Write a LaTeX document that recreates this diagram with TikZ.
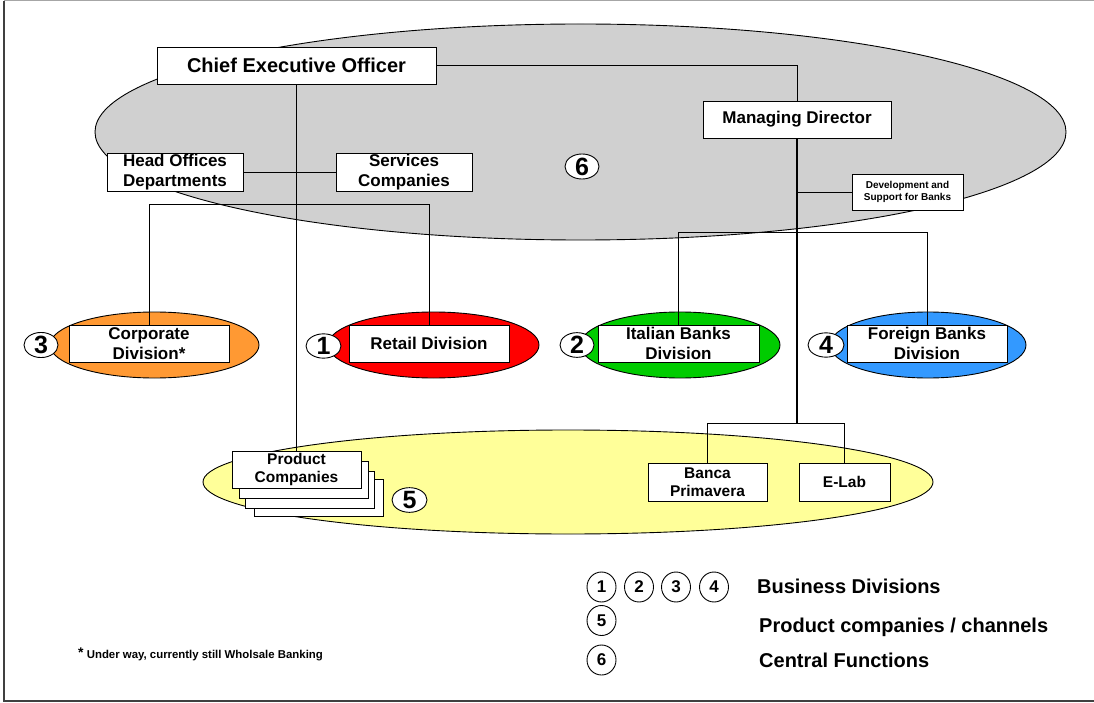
\documentclass[tikz,border=0pt]{standalone}
\usepackage{fontspec}
\setmainfont{Liberation Sans}
\usetikzlibrary{shapes.geometric}

\definecolor{centralgray}{RGB}{208,208,208}
\definecolor{chanyellow}{RGB}{255,255,153}
\definecolor{corporange}{RGB}{255,153,51}
\definecolor{retailred}{RGB}{255,0,0}
\definecolor{italgreen}{RGB}{0,204,0}
\definecolor{foreignblue}{RGB}{51,153,255}

\tikzset{
  orgbox/.style={draw, fill=white, line width=0.9pt, inner sep=0pt, align=center,
    font=\bfseries\fontsize{17}{20}\selectfont},
  smallbox/.style={orgbox, font=\bfseries\fontsize{15.5}{18}\selectfont},
  area/.style={ellipse, draw, line width=0.9pt, inner sep=0pt},
  badge/.style={ellipse, draw, fill=white, line width=0.9pt, inner sep=0pt,
    font=\bfseries\fontsize{25}{25}\selectfont},
  keybadge/.style={ellipse, draw, fill=white, line width=0.9pt, inner sep=0pt,
    minimum width=29, minimum height=30, font=\bfseries\fontsize{17}{17}\selectfont},
  keytext/.style={anchor=base west, inner sep=0pt, font=\bfseries\fontsize{20}{24}\selectfont},
  link/.style={line width=0.9pt},
  mainlink/.style={line width=1.4pt}
}

\begin{document}
\begin{tikzpicture}[x=1pt, y=-1pt]
\useasboundingbox (0,0) rectangle (1094,703);

% page frame
\draw[line width=0.8pt, gray!70] (1094,0.6) -- (4,0.6);
\draw[line width=1.6pt, black!75] (4,0.6) -- (4,701) -- (1094,701);

% coloured areas
\node[area, fill=centralgray, minimum width=971, minimum height=216] (central) at (580.5,132) {};
\node[area, fill=chanyellow, minimum width=730, minimum height=104] (channels) at (568,482) {};
\node[area, fill=corporange, minimum width=209, minimum height=66] (corpEll) at (154.5,345) {};
\node[area, fill=retailred, minimum width=211, minimum height=66] (retailEll) at (433.5,345) {};
\node[area, fill=italgreen, minimum width=200, minimum height=66] (italianEll) at (680,345) {};
\node[area, fill=foreignblue, minimum width=196, minimum height=66] (foreignEll) at (928,345) {};

% coordinates of the bracket rails
\coordinate (railA) at (0,204);
\coordinate (railB) at (0,232);
\coordinate (railC) at (0,423);

% boxes
\node[orgbox, minimum width=279, minimum height=37,
      font=\bfseries\fontsize{20}{24}\selectfont] (ceo) at (296.5,65.5) {Chief Executive Officer};
\node[orgbox, minimum width=188, minimum height=37] (md) at (797,119.5) {Managing Director};
\node[orgbox, minimum width=136, minimum height=38] (hod) at (175,172) {Head Offices\\Departments};
\node[orgbox, minimum width=136, minimum height=38] (svc) at (404,172) {Services\\Companies};
\node[orgbox, minimum width=111, minimum height=36,
      font=\bfseries\fontsize{10}{12}\selectfont] (dev) at (907.5,192) {Development and\\Support for Banks};

\node[orgbox, minimum width=160, minimum height=37] (corp) at (149,343.5) {Corporate\\Division*};
\node[orgbox, minimum width=160, minimum height=37] (retail) at (429,343.5) {Retail Division};
\node[orgbox, minimum width=161, minimum height=37] (italian) at (678.5,343.5) {Italian Banks\\Division};
\node[orgbox, minimum width=160, minimum height=37] (foreign) at (927,343.5) {Foreign Banks\\Division};

\node[smallbox, minimum width=129, minimum height=37] (pc4) at (319,497.5) {};
\node[smallbox, minimum width=129, minimum height=37] (pc3) at (310,489.5) {};
\node[smallbox, minimum width=129, minimum height=37] (pc2) at (304,479.5) {};
\node[smallbox, minimum width=129, minimum height=37] (pc) at (296.5,469.5) {Product\\Companies};
\node[smallbox, minimum width=119, minimum height=38] (banca) at (707.5,482) {Banca\\Primavera};
\node[smallbox, minimum width=91, minimum height=38] (elab) at (844.5,482) {E-Lab};

% reporting lines
\draw[link] (ceo.east) -| (md.north);
\draw[mainlink] (ceo.south) -- (pc.north);
\draw[link] (hod.east) -- (svc.west);
\draw[link] (corp.north) -- (corp.north |- railA) -- (retail.north |- railA) -- (retail.north);
\draw[mainlink] (md.south) -- (md.south |- railC);
\draw[link] (md.south |- dev.west) -- (dev.west);
\draw[link] (italian.north) -- (italian.north |- railB) -- (foreign.north |- railB) -- (foreign.north);
\draw[link] (banca.north) -- (banca.north |- railC) -- (elab.north |- railC) -- (elab.north);

% area numbers
\node[badge, minimum width=34, minimum height=24] (n3) at (41,345) {3};
\node[badge, minimum width=35, minimum height=23] (n1) at (323.5,346) {1};
\node[badge, minimum width=34, minimum height=24] (n2) at (577,345) {2};
\node[badge, minimum width=36, minimum height=24] (n4) at (826,345) {4};
\node[badge, minimum width=35, minimum height=24] (n5) at (409.5,500) {5};
\node[badge, minimum width=34, minimum height=21] (n6) at (582,166.5) {6};

% key
\node[keybadge] (k1) at (601.5,587) {1};
\node[keybadge] (k2) at (639,587) {2};
\node[keybadge] (k3) at (676,587) {3};
\node[keybadge] (k4) at (714,587) {4};
\node[keybadge] (k5) at (601.5,620.5) {5};
\node[keybadge] (k6) at (601.5,660) {6};
\node[keytext] (kt1) at (757,593) {Business Divisions};
\node[keytext] (kt2) at (759,632) {Product companies / channels};
\node[keytext] (kt3) at (759,667) {Central Functions};

% footnote
\node[anchor=base west, inner sep=0pt, font=\bfseries\fontsize{11.4}{13}\selectfont] (note) at (78,658)
  {\raisebox{0.5pt}{\fontsize{14}{14}\selectfont*}\ Under way, currently still Wholsale Banking};
\end{tikzpicture}
\end{document}
